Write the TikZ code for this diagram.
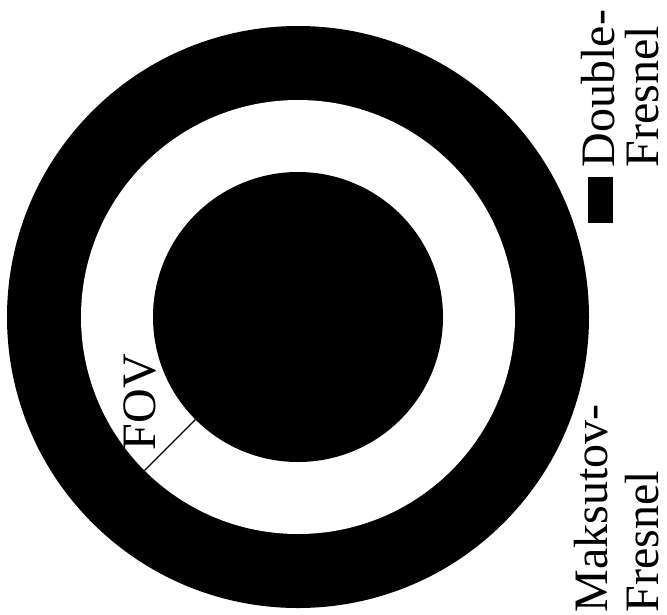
\documentclass[tikz,border=0pt]{standalone}
\usepackage{fontspec}
\setmainfont{Liberation Serif}
\usetikzlibrary{calc}
\tikzset{
  ring/.style={fill=black},
  lbl/.style={inner sep=0pt, outer sep=0pt, anchor=base west, rotate=90,
    text depth=0pt, font=\fontsize{48}{48}\selectfont},
  fovline/.style={draw=black, line width=1.3pt}
}
\begin{document}
\begin{tikzpicture}[x=1pt,y=-1pt]
\useasboundingbox (0,0) rectangle (667,614);
\coordinate (c) at (298,317);
% rings
\fill[ring] (c) circle (291pt);
\fill[white] (c) circle (217pt);
\fill[ring] (c) circle (145pt);
% FOV marker
\coordinate (fovin) at ($(c)+(135:145)$);
\coordinate (fovout) at ($(c)+(135:217)$);
\draw[fovline] (fovin) -- (fovout);
\node[lbl] (fov) at (155,450) {FOV};
% legend
\fill[ring] (588,177) rectangle (613,223);
\node[lbl] (dbl1) at (614,167) {Double-};
\node[lbl] (dbl2) at (658,167) {Fresnel};
\node[lbl] (mak1) at (607,612) {Maksutov-};
\node[lbl] (mak2) at (658,612) {Fresnel};
\end{tikzpicture}
\end{document}
